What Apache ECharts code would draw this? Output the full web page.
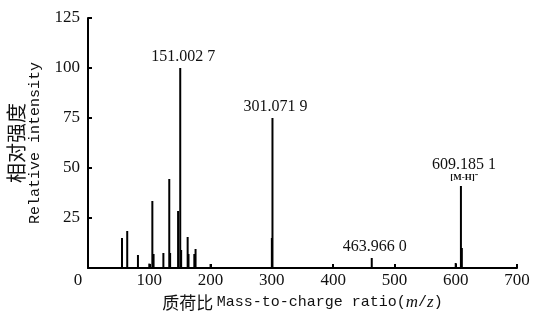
<!DOCTYPE html>
<html>
<head>
<meta charset="utf-8">
<script src="https://cdn.jsdelivr.net/npm/echarts@6/dist/echarts.min.js"></script>
<style>
html,body{margin:0;padding:0;background:#fff;}
#c{width:533px;height:320px;}
</style>
</head>
<body>
<div id="c"></div>
<script>
// m/z positions of peaks
const mz = [55.5, 64, 81.5, 100, 105, 107, 123, 132.6, 134, 147, 150.5, 152, 162.6, 164, 173.5, 175.5, 200, 300, 301, 463, 600, 608.5, 610];
// relative intensity of peaks
const intensity = [15, 18.5, 6.5, 2.2, 33.5, 7, 7.5, 44.5, 7.5, 28.5, 100, 9, 15.5, 7, 7, 9.5, 2, 15, 75, 5, 2.5, 41, 10];
// peak annotations ('' = none)
const peakText = ['', '', '', '', '', '', '', '', '', '', '151.002 7', '', '', '', '', '', '', '', '301.071 9', '463.966 0', '', '609.185 1', ''];
const ionText = ['', '', '', '', '', '', '', '', '', '', '', '', '', '', '', '', '', '', '', '', '', '[M-H]⁻', ''];
// axis ticks
const xTicks = [0, 100, 200, 300, 400, 500, 600, 700];
const yTicks = [0, 25, 50, 75, 100, 125];

const serif = '"Liberation Serif", "Times New Roman", serif';
const mono = '"Liberation Mono", monospace';
const cjk = '"Noto Sans CJK SC", sans-serif';

const data = mz.map((m, i) => {
  const item = { value: [m, intensity[i]] };
  if (peakText[i]) {
    let f = peakText[i];
    if (ionText[i]) f += '\n{s|' + ionText[i] + '}';
    item.label = {
      show: true,
      position: 'top',
      distance: ionText[i] ? 3 : 4,
      offset: [3, 0],
      formatter: f,
      fontFamily: serif,
      fontSize: 16,
      color: '#111',
      lineHeight: 15,
      rich: { s: { fontFamily: serif, fontSize: 9, fontWeight: 'bold', color: '#111', lineHeight: 11 } }
    };
  }
  return item;
});

const chart = echarts.init(document.getElementById('c'), null, { renderer: 'canvas' });
chart.setOption({
  animation: false,
  backgroundColor: '#fff',
  grid: { left: 88, right: 16, top: 18, bottom: 52, containLabel: false, outerBoundsMode: 'none' },
  xAxis: {
    type: 'value',
    min: xTicks[0], max: xTicks[xTicks.length - 1], interval: 100,
    axisLine: { show: true, onZero: false, lineStyle: { color: '#000', width: 2 } },
    axisTick: { show: true, inside: true, length: 4, lineStyle: { color: '#000', width: 2 } },
    splitLine: { show: false },
    axisLabel: {
      fontFamily: serif, fontSize: 17, color: '#111', margin: 4,
      formatter: v => v === 0 ? '{z|0}' : String(v),
      rich: { z: { fontFamily: serif, fontSize: 17, color: '#111', padding: [0, 20, 0, 0] } }
    },
    name: '{c|质荷比} {e|Mass-to-charge ratio(}{i|m}{e|/}{i|z}{e|)}',
    nameLocation: 'middle',
    nameGap: 24,
    nameTextStyle: {
      rich: {
        c: { fontFamily: cjk, fontSize: 17, color: '#111' },
        e: { fontFamily: mono, fontSize: 15, color: '#111' },
        i: { fontFamily: serif, fontSize: 17, fontStyle: 'italic', color: '#111' }
      }
    }
  },
  yAxis: {
    type: 'value',
    min: yTicks[0], max: yTicks[yTicks.length - 1], interval: 25,
    axisLine: { show: true, lineStyle: { color: '#000', width: 2 } },
    axisTick: { show: true, inside: true, length: 4, lineStyle: { color: '#000', width: 2 } },
    splitLine: { show: false },
    axisLabel: { fontFamily: serif, fontSize: 17, color: '#111', margin: 8, showMinLabel: false },
    name: '{c|相对强度}\n{e|Relative intensity}',
    nameLocation: 'middle',
    nameRotate: 90,
    nameGap: 44,
    nameTextStyle: {
      rich: {
        c: { fontFamily: cjk, fontSize: 20, color: '#111', lineHeight: 20 },
        e: { fontFamily: mono, fontSize: 15, color: '#111', lineHeight: 18 }
      }
    }
  },
  series: [{
    type: 'bar',
    data: data,
    barWidth: 2,
    itemStyle: { color: '#000' },
    label: { show: false }
  }]
});
</script>
</body>
</html>
